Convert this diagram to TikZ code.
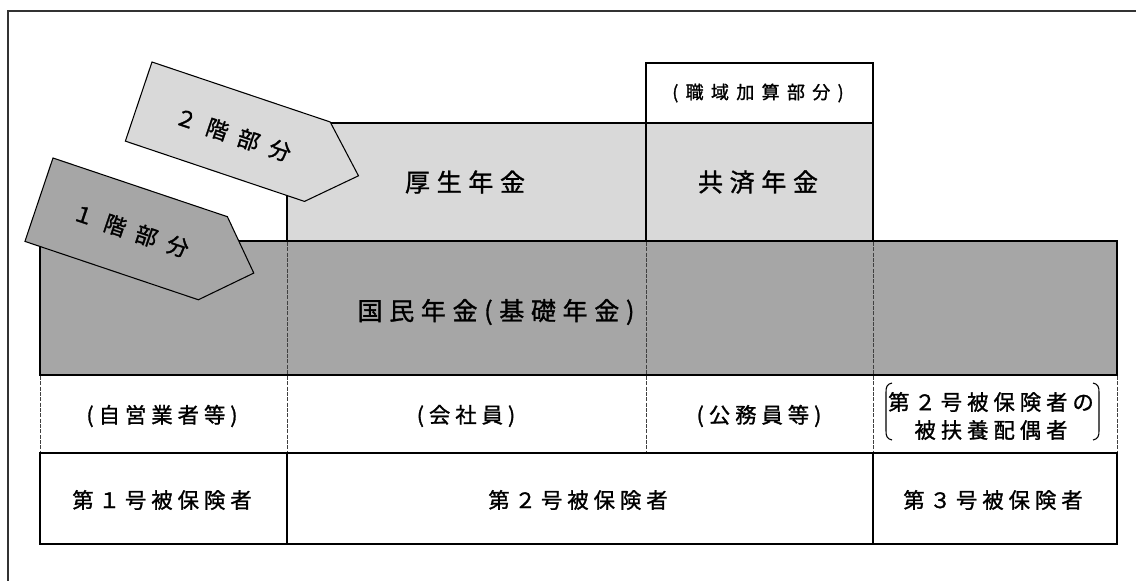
\documentclass[tikz,border=0pt]{standalone}
\usepackage{fontspec}
\newfontfamily\jp[FakeBold=1.2]{Noto Sans CJK JP}
\definecolor{lg}{HTML}{D9D9D9}
\definecolor{mg}{HTML}{A6A6A6}
\def\lsend{\lsend}
\newcommand\ls[2]{\def\lsgap{#1}\lsaux#2\lsend}
\def\lsaux#1{\ifx#1\lsend\unkern\else#1\kern\lsgap\relax\expandafter\lsaux\fi}
\tikzset{
  boxline/.style={draw=black, line width=1.6pt},
  dashrule/.style={draw=black!75, line width=0.75pt, dash pattern=on 3pt off 1pt},
  bigtxt/.style={font=\jp\fontsize{18.75}{22}\selectfont, inner sep=0pt},
  midtxt/.style={font=\jp\fontsize{16}{21}\selectfont, inner sep=0pt, align=center},
  smalltxt/.style={font=\jp\fontsize{13.5}{16}\selectfont, inner sep=0pt},
  arrowtxt/.style={font=\jp\fontsize{16.5}{20}\selectfont, rotate=-18.6, inner sep=0pt},
  pentagon/.style={draw=black, line width=0.8pt, line join=miter}
}
\begin{document}
\begin{tikzpicture}[x=0.75pt, y=-0.75pt]
\useasboundingbox (0,0) rectangle (1136,581);
\fill[white] (0,0) rectangle (1136,581);
% frame
\draw[black!80, line width=1.3pt] (8,581) -- (8,11) -- (1136,11);

% second floor
\filldraw[boxline, fill=white] (646,63) rectangle (873,123);
\filldraw[boxline, fill=lg] (287,123) rectangle (646,241);
\filldraw[boxline, fill=lg] (646,123) rectangle (873,241);

% arrow 2
\begin{scope}[shift={(152,62)}, rotate=-18.6]
  \filldraw[pentagon, fill=lg] (0,0) -- (188,0) -- (232,42) -- (189,83.5) -- (0,83.5) -- cycle;
  \node[arrowtxt] (a2) at (100,43) {\ls{8.25pt}{２階部分}};
\end{scope}

% first floor
\filldraw[boxline, fill=mg] (40,241) rectangle (1117,375);
\draw[dashrule] (287,242) -- (287,374);
\draw[dashrule] (646,242) -- (646,374);
\draw[dashrule] (873,242) -- (873,374);

% arrow 1
\begin{scope}[shift={(53,158)}, rotate=-18.6]
  \filldraw[pentagon, fill=mg] (0,0) -- (184,0) -- (227,45) -- (183,88) -- (0,88) -- cycle;
  \node[arrowtxt] (a1) at (97,44) {\ls{8.25pt}{１階部分}};
\end{scope}

% row 2 dashed
\foreach \xx in {40,287,646,873,1117} \draw[dashrule] (\xx,376) -- (\xx,452);

% row 3
\draw[boxline] (40,453) rectangle (287,544);
\draw[boxline] (287,453) rectangle (873,544);
\draw[boxline] (873,453) rectangle (1117,544);

% texts
\node[smalltxt] (shoku) at (758,93) {\ls{5.5pt}{(職域加算部分)}};
\node[bigtxt] (kosei) at (465,182) {\ls{5pt}{厚生年金}};
\node[bigtxt] (kyosai) at (758,182) {\ls{5pt}{共済年金}};
\node[bigtxt] (kokumin) at (496,312) {\ls{5pt}{国民年金(基礎年金)}};

\node[midtxt] (jiei) at (162,416) {\ls{3.75pt}{(自営業者等)}};
\node[midtxt] (kaisha) at (466,416) {\ls{3.75pt}{(会社員)}};
\node[midtxt] (koumu) at (759,416) {\ls{3.75pt}{(公務員等)}};
\node[midtxt] (haigu) at (991,416) {\ls{3.75pt}{第２号被保険者の}\\\ls{3.75pt}{被扶養配偶者}};
\draw[line width=0.8pt] (892,383) .. controls (887,384) and (886,387) .. (886,392) -- (886,431) .. controls (886,436) and (887,439) .. (892,440);
\draw[line width=0.8pt] (1093,383) .. controls (1098,384) and (1099,387) .. (1099,392) -- (1099,431) .. controls (1099,436) and (1098,439) .. (1093,440);

\node[midtxt] (no1) at (162,500) {\ls{3.75pt}{第１号被保険者}};
\node[midtxt] (no2) at (578,500) {\ls{3.75pt}{第２号被保険者}};
\node[midtxt] (no3) at (993,500) {\ls{3.75pt}{第３号被保険者}};
\end{tikzpicture}
\end{document}
